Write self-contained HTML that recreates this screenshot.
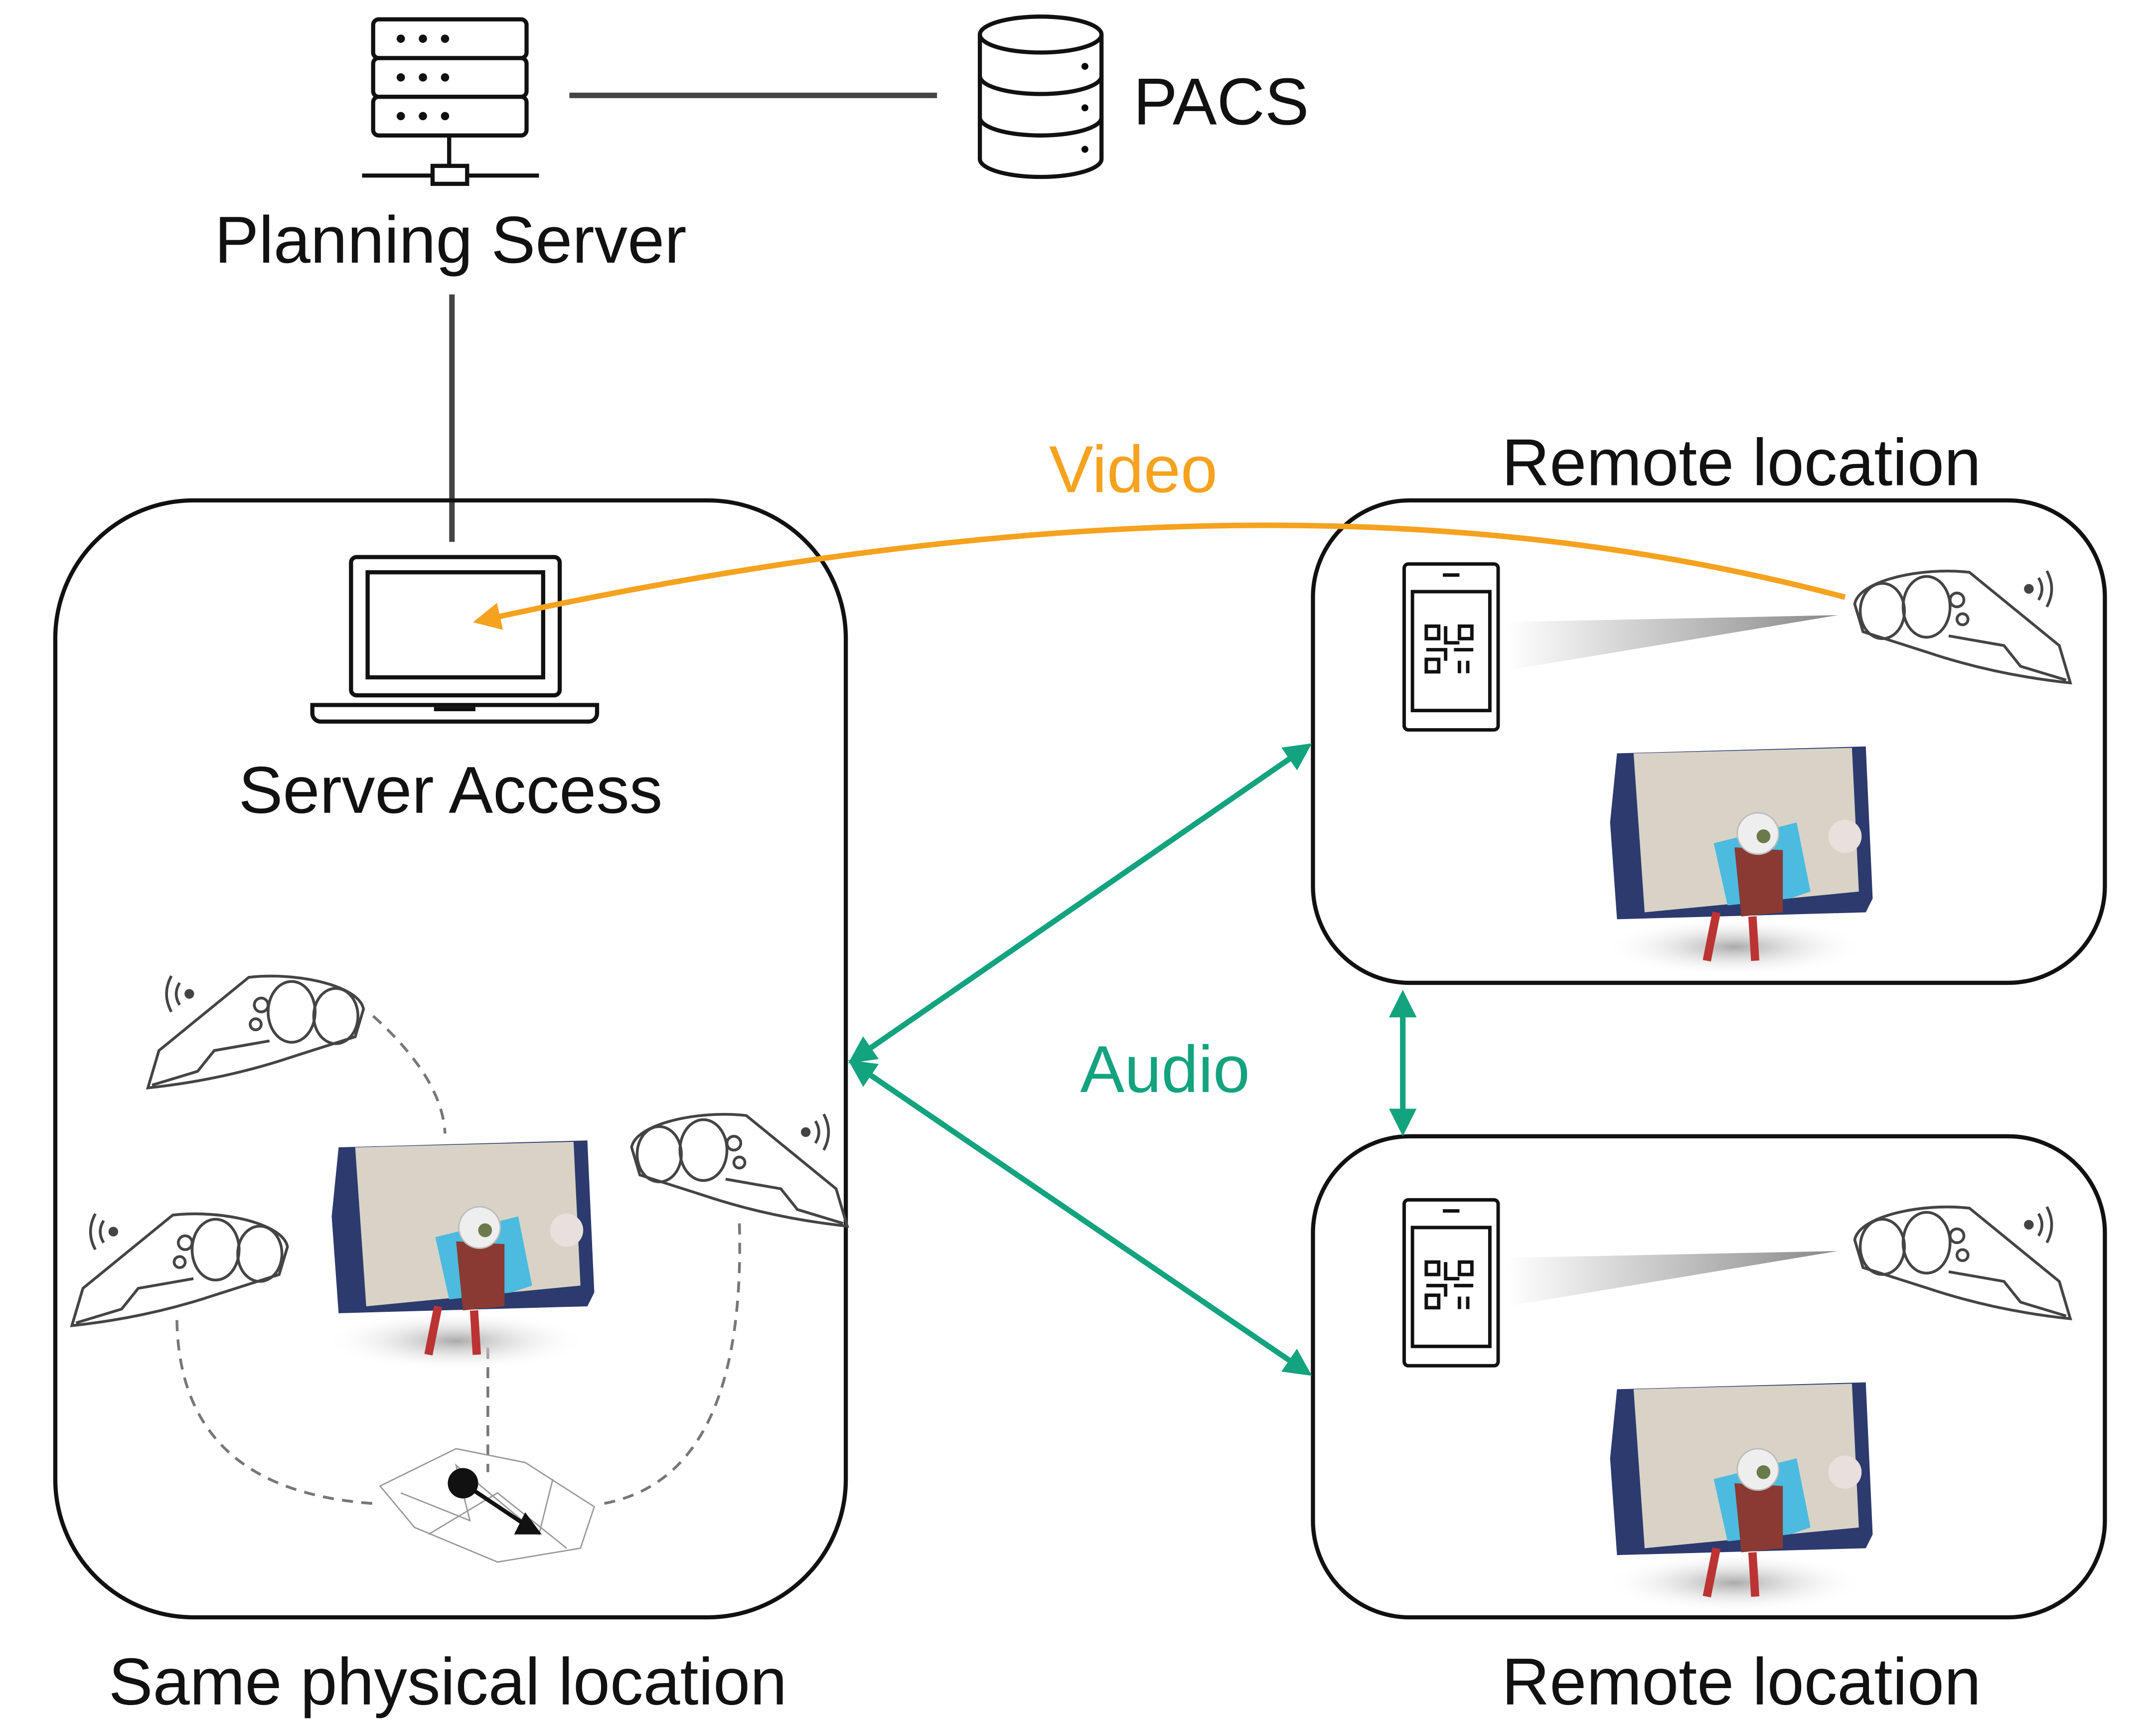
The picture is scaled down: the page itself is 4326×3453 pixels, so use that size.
<!DOCTYPE html>
<html><head><meta charset="utf-8"><style>
html,body{margin:0;padding:0;background:#fff;}
svg{display:block;}
text{font-family:"Liberation Sans",sans-serif;}
</style></head><body>
<svg width="4326" height="3453" viewBox="0 0 1560 1245" preserveAspectRatio="none" xmlns="http://www.w3.org/2000/svg">
<defs>
<linearGradient id="beam" x1="0" x2="1" y1="0" y2="0">
<stop offset="0" stop-color="#fff"/><stop offset="1" stop-color="#888"/>
</linearGradient>
<radialGradient id="shadow" cx="0.5" cy="0.5" r="0.5">
<stop offset="0" stop-color="#aaa"/><stop offset="1" stop-color="#fff" stop-opacity="0"/>
</radialGradient>
<g id="headset" fill="none" stroke="#444" stroke-width="2">
<path d="M2,25 C5,8 50,-2 85,2 L150,55 L158,82 C120,78 85,70 55,60 L8,45 Z"/>
<ellipse cx="22" cy="30" rx="16" ry="20"/>
<ellipse cx="54" cy="27" rx="17" ry="22"/>
<circle cx="76" cy="22" r="5"/><circle cx="80" cy="36" r="4"/>
<path d="M70,48 L110,55 L122,70 L155,80"/>
<circle cx="128" cy="14" r="2.5" fill="#444"/>
<path d="M135,6 Q140,14 135,22 M141,1 Q148,14 141,27"/>
</g>
<g id="phone">
<rect x="0" y="0" width="68" height="120" rx="3" fill="#fff" stroke="#111" stroke-width="2.5"/>
<rect x="6" y="20" width="56" height="86" fill="none" stroke="#111" stroke-width="2.5"/>
<line x1="28" y1="8" x2="40" y2="8" stroke="#111" stroke-width="2.5"/>
<g fill="none" stroke="#111" stroke-width="2.5">
<rect x="16" y="45" width="9" height="9"/><rect x="40" y="45" width="9" height="9"/><rect x="16" y="69" width="9" height="9"/>
<path d="M30,45 v12 h10 M16,62 h14 v8 M36,62 h14 M40,70 v9 M46,70 v9"/>
</g>
</g>
<g id="anat">
<ellipse cx="95" cy="150" rx="95" ry="22" fill="url(#shadow)"/>
<path d="M10,10 L190,5 L195,115 L190,125 L10,130 L5,60 Z" fill="#2c3a6e"/>
<path d="M22,10 L180,6 L185,110 L30,125 Z" fill="#d8d3c6"/>
<path d="M80,75 L140,60 L150,110 L135,115 L90,120 Z" fill="#4bbbe0"/>
<path d="M95,78 L130,80 L130,125 L100,128 Z" fill="#8a3a32"/>
<circle cx="112" cy="68" r="15" fill="#eee" stroke="#bbb"/><circle cx="116" cy="70" r="5" fill="#6a7a4a"/>
<circle cx="175" cy="70" r="12" fill="#e8e0dc"/>
<path d="M82,125 L75,160 M108,128 L110,160" stroke="#b33" stroke-width="6" fill="none"/>
</g>
<marker id="og" viewBox="0 0 10 10" refX="5" refY="5" markerWidth="5" markerHeight="5" orient="auto-start-reverse"><path d="M0,0 L10,5 L0,10 Z" fill="#F5A21F"/></marker>
<marker id="gr" viewBox="0 0 10 10" refX="8" refY="5" markerWidth="5" markerHeight="5" orient="auto-start-reverse"><path d="M0,0 L10,5 L0,10 Z" fill="#13A37E"/></marker>
</defs>

<!-- Server -->
<g fill="none" stroke="#111" stroke-width="3">
<rect x="270" y="14" width="111" height="28" rx="4"/>
<rect x="270" y="42" width="111" height="28" rx="4"/>
<rect x="270" y="70" width="111" height="28" rx="4"/>
<line x1="325" y1="98" x2="325" y2="120"/>
<rect x="313" y="120" width="25" height="13"/>
<line x1="262" y1="127" x2="313" y2="127"/><line x1="338" y1="127" x2="390" y2="127"/>
</g>
<g fill="#111">
<circle cx="290" cy="28" r="3"/><circle cx="306" cy="28" r="3"/><circle cx="322" cy="28" r="3"/>
<circle cx="290" cy="56" r="3"/><circle cx="306" cy="56" r="3"/><circle cx="322" cy="56" r="3"/>
<circle cx="290" cy="84" r="3"/><circle cx="306" cy="84" r="3"/><circle cx="322" cy="84" r="3"/>
</g>
<line x1="412" y1="69" x2="678" y2="69" stroke="#444" stroke-width="4"/>
<!-- DB -->
<g fill="none" stroke="#111" stroke-width="3">
<path d="M709,25 v90 a44,13 0 0 0 88,0 v-90"/>
<ellipse cx="753" cy="25" rx="44" ry="13"/>
<path d="M709,55 a44,13 0 0 0 88,0 M709,85 a44,13 0 0 0 88,0"/>
</g>
<circle cx="785" cy="48" r="2.5"/><circle cx="785" cy="78" r="2.5"/><circle cx="785" cy="108" r="2.5"/>
<text x="820" y="90" font-size="48" fill="#111">PACS</text>
<text x="326" y="190" font-size="48" fill="#111" text-anchor="middle">Planning Server</text>
<line x1="327" y1="213" x2="327" y2="392" stroke="#444" stroke-width="4"/>

<!-- Boxes -->
<rect x="40" y="362" width="572" height="808" rx="100" fill="none" stroke="#111" stroke-width="3"/>
<rect x="950" y="362" width="573" height="349" rx="70" fill="none" stroke="#111" stroke-width="3"/>
<rect x="950" y="822" width="573" height="348" rx="70" fill="none" stroke="#111" stroke-width="3"/>

<!-- Laptop -->
<g fill="none" stroke="#111" stroke-width="3">
<rect x="254" y="403" width="151" height="100" rx="4"/>
<rect x="266" y="414" width="127" height="76"/>
<path d="M226,510 h206 v6 a6,6 0 0 1 -6,6 h-194 a6,6 0 0 1 -6,-6 Z"/>
<line x1="314" y1="513" x2="344" y2="513"/>
</g>
<text x="326" y="588" font-size="48" fill="#111" text-anchor="middle">Server Access</text>

<text x="1260" y="351" font-size="48" fill="#111" text-anchor="middle">Remote location</text>
<text x="1260" y="1233" font-size="48" fill="#111" text-anchor="middle">Remote location</text>
<text x="324" y="1233" font-size="48" fill="#111" text-anchor="middle">Same physical location</text>

<!-- Right box contents -->
<polygon points="1090,450 1330,445 1090,485" fill="url(#beam)"/>
<use href="#phone" x="1016" y="408"/>
<use href="#headset" x="1340" y="412"/>
<use href="#anat" x="1160" y="535"/>
<polygon points="1090,910 1330,905 1090,945" fill="url(#beam)"/>
<use href="#phone" x="1016" y="868"/>
<use href="#headset" x="1340" y="872"/>
<use href="#anat" x="1160" y="995"/>

<!-- Left box contents -->
<g fill="none" stroke="#777" stroke-width="2" stroke-dasharray="8,6">
<path d="M270,735 Q320,780 322,820"/>
<path d="M128,955 Q130,1080 275,1088"/>
<path d="M535,885 Q540,1070 435,1088"/>
<path d="M353,975 L353,1065"/>
</g>
<use href="#headset" transform="translate(265,705) scale(-1,1)"/>
<use href="#headset" transform="translate(210,877) scale(-1,1)"/>
<use href="#headset" x="455" y="805"/>
<use href="#anat" x="235" y="820"/>
<g fill="none" stroke="#999" stroke-width="1">
<path d="M275,1075 L330,1048 L380,1058 L430,1090 L420,1120 L360,1130 L300,1105 Z M290,1080 L340,1100 L330,1060 L390,1110 L400,1070 M310,1110 L360,1080 L410,1120"/>
</g>
<circle cx="335" cy="1073" r="11" fill="#111"/>
<line x1="335" y1="1073" x2="380" y2="1103" stroke="#111" stroke-width="3"/>
<path d="M372,1110 L392,1110 L380,1094 Z" fill="#111"/>

<!-- Video -->
<path d="M1335,432 C1100,370 800,350 352,448" fill="none" stroke="#F5A21F" stroke-width="4" marker-end="url(#og)"/>
<text x="820" y="356" font-size="48" fill="#F5A21F" text-anchor="middle">Video</text>

<!-- Audio -->
<g stroke="#13A37E" stroke-width="4" fill="none">
<line x1="946" y1="540" x2="617" y2="767" marker-start="url(#gr)" marker-end="url(#gr)"/>
<line x1="617" y1="769" x2="946" y2="993" marker-start="url(#gr)" marker-end="url(#gr)"/>
<line x1="1015" y1="720" x2="1015" y2="818" marker-start="url(#gr)" marker-end="url(#gr)"/>
</g>
<text x="843" y="790" font-size="48" fill="#13A37E" text-anchor="middle">Audio</text>
</svg>
</body></html>
